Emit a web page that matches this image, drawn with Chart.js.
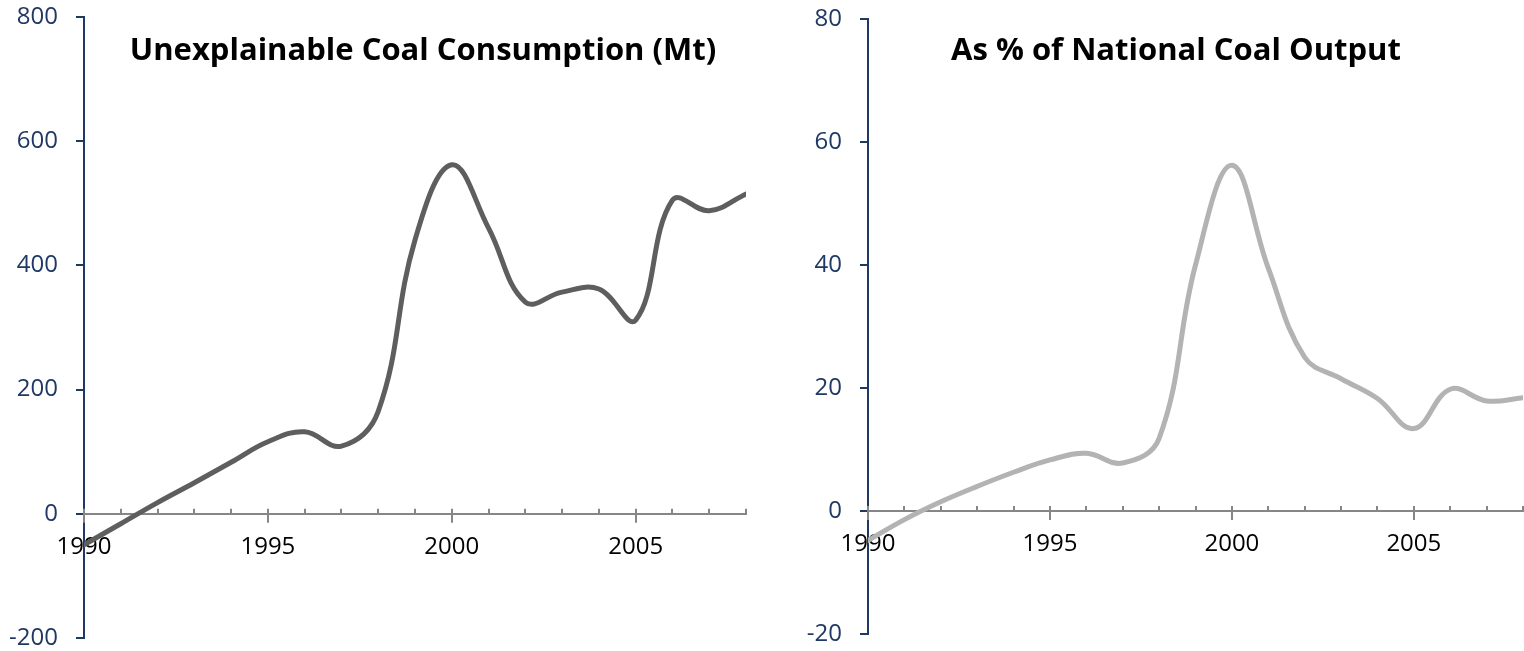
<!DOCTYPE html>
<html>
<head>
<meta charset="utf-8">
<script src="https://cdn.jsdelivr.net/npm/chart.js@4"></script>
<style>
  body { margin: 0; background: #fff; }
  .box { position: absolute; top: 0; width: 762px; height: 651px; }
</style>
</head>
<body>
<div class="box" style="left:0"><canvas id="coalChart" width="762" height="651"></canvas></div>
<div class="box" style="left:762px"><canvas id="shareChart" width="762" height="651"></canvas></div>
<script>
"use strict"

// данные
const years = [1990, 1991, 1992, 1993, 1994, 1995, 1996, 1997, 1998, 1999,
	2000, 2001, 2002, 2003, 2004, 2005, 2006, 2007, 2008];
const coalMt = [-50, -16, 18, 50, 83, 116, 132, 109, 165, 441,
	562, 460, 341, 357, 362, 312, 505, 488, 515];
const shareOfOutput = [-4.8, -1.4, 1.5, 4, 6.3, 8.3, 9.4, 7.8, 11.8, 40,
	56.2, 39.5, 25, 21.5, 18.3, 13.4, 19.8, 17.9, 18.4];
const coalTicks = [-200, 0, 200, 400, 600, 800];
const shareTicks = [-20, 0, 20, 40, 60, 80];
const majorYears = [1990, 1995, 2000, 2005];

const navy = '#1F3864';
const axisGray = '#868686';
const font = "'Open Sans', sans-serif";

// засечки на оси X: мелкие вверх, крупные через ось
const xTicksPlugin = {
	id: 'xTicks',
	beforeDatasetsDraw(chart) {
		const ctx = chart.ctx;
		const x = chart.scales.x;
		const y0 = chart.scales.y.getPixelForValue(0);
		ctx.save();
		ctx.strokeStyle = axisGray;
		ctx.lineWidth = 2;
		years.forEach(yr => {
			const px = Math.round(x.getPixelForValue(yr));
			const major = majorYears.includes(yr);
			ctx.beginPath();
			ctx.moveTo(px, y0 - 5);
			ctx.lineTo(px, major ? y0 + 9 : y0);
			ctx.stroke();
		});
		ctx.restore();
	}
};

// заголовок внутри области графика
const titlePlugin = {
	id: 'innerTitle',
	afterDraw(chart, args, opts) {
		const ctx = chart.ctx;
		ctx.save();
		ctx.font = "bold 31px " + font;
		ctx.fillStyle = '#000';
		ctx.textAlign = 'center';
		ctx.textBaseline = 'middle';
		ctx.fillText(opts.text, opts.x, opts.y);
		ctx.restore();
	}
};

// без лишних отступов от подписей
function noPad(s) {
	s.paddingTop = 0;
	s.paddingBottom = 0;
	s.paddingLeft = 0;
	s.paddingRight = 0;
}

function makeChart(id, values, tickList, color, title, titleX, pad) {
	return new Chart(document.getElementById(id), {
		type: 'line',
		data: {
			datasets: [{
				data: years.map((yr, i) => ({ x: yr, y: values[i] })),
				borderColor: color,
				borderWidth: 5,
				borderCapStyle: 'round',
				borderJoinStyle: 'round',
				pointRadius: 0,
				tension: 0.4,
				fill: false
			}]
		},
		options: {
			responsive: false,
			animation: false,
			layout: { padding: pad },
			plugins: {
				legend: { display: false },
				tooltip: { enabled: false },
				innerTitle: { text: title, x: titleX, y: 51 }
			},
			scales: {
				x: {
					type: 'linear',
					position: { y: 0 },
					min: years[0],
					max: years[years.length - 1],
					afterBuildTicks: s => { s.ticks = majorYears.map(v => ({ value: v })); },
					afterFit: noPad,
					grid: { display: false },
					border: { display: true, color: axisGray, width: 2 },
					ticks: {
						padding: 11,
						color: '#000',
						font: { family: font, size: 24 },
						maxRotation: 0,
						callback: v => String(v)
					}
				},
				y: {
					min: tickList[0],
					max: tickList[tickList.length - 1],
					afterBuildTicks: s => { s.ticks = tickList.map(v => ({ value: v })); },
					afterFit: s => { noPad(s); s.width = pad.axisW; },
					grid: { drawOnChartArea: false, color: navy, lineWidth: 2, tickLength: 8 },
					border: { display: true, color: navy, width: 2 },
					ticks: {
						padding: 18,
						color: navy,
						font: { family: font, size: 24 },
						callback: v => String(v)
					}
				}
			}
		},
		plugins: [xTicksPlugin, titlePlugin]
	});
}

makeChart('coalChart', coalMt, coalTicks, '#5E5E5E',
	'Unexplainable Coal Consumption (Mt)', 423,
	{ top: 17, bottom: 13, left: 0, right: 16, axisW: 84 });
makeChart('shareChart', shareOfOutput, shareTicks, '#B3B3B3',
	'As % of National Coal Output', 414,
	{ top: 19, bottom: 17, left: 0, right: 1, axisW: 106 });
</script>
</body>
</html>
